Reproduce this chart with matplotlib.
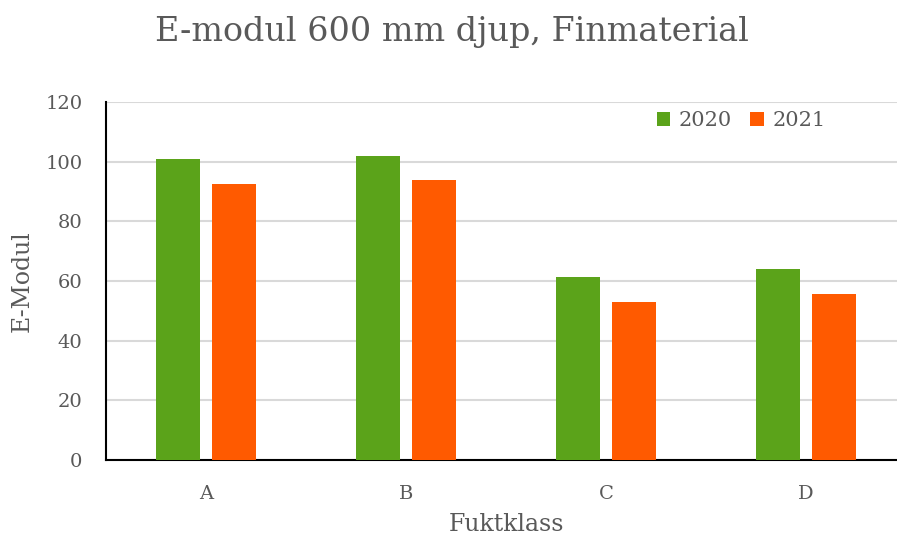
import numpy as np
import matplotlib.pyplot as plt

# Data
klasser = ['A', 'B', 'C', 'D']
ar = ['2020', '2021']
emodul_2020 = [100.8, 101.8, 61.2, 64.1]
emodul_2021 = [92.5, 93.7, 53.1, 55.7]

GRON = '#5BA31A'
ORANGE = '#FF5A00'
GRA_TEXT = '#595959'

plt.rcParams['font.family'] = ['DejaVu Serif']

fig = plt.figure(figsize=(8.97, 5.38), dpi=100)
ax = fig.add_axes([106 / 897, 78 / 538, 800 / 897, 358 / 538])

x = np.arange(len(klasser))
bredd = 0.22
ax.bar(x - 0.14, emodul_2020, bredd, color=GRON, label=ar[0], zorder=3)
ax.bar(x + 0.14, emodul_2021, bredd, color=ORANGE, label=ar[1], zorder=3)

ax.set_xlim(-0.5, 3.5)
ax.set_ylim(0, 120)
ax.set_yticks(range(0, 121, 20))
ax.set_xticks(x)
ax.set_xticklabels(klasser)
ax.yaxis.grid(True, color='#D9D9D9', linewidth=1.5, zorder=0)
ax.set_axisbelow(True)

for s in ['top', 'right']:
    ax.spines[s].set_visible(False)
for s in ['left', 'bottom']:
    ax.spines[s].set_color('black')
    ax.spines[s].set_linewidth(1.5)

ax.tick_params(axis='both', length=0, labelsize=14, colors=GRA_TEXT)
ax.tick_params(axis='y', pad=17)
ax.tick_params(axis='x', pad=18)

ax.set_ylabel('E-Modul', fontsize=17, color=GRA_TEXT)
ax.yaxis.label.set_va('center')
ax.yaxis.set_label_coords(-0.105, 0.5)
ax.set_xlabel('Fuktklass', fontsize=17, color=GRA_TEXT)
ax.xaxis.label.set_va('center')
ax.xaxis.set_label_coords(0.5, -0.18)

fig.text(0.504, 1 - 32 / 538, 'E-modul 600 mm djup, Finmaterial', ha='center', va='center',
         fontsize=24, color=GRA_TEXT)

leg = ax.legend(loc='center', bbox_to_anchor=(741 / 897, 1 - 121 / 538),
                bbox_transform=fig.transFigure, ncol=2, frameon=False,
                fontsize=15, handlelength=0.65, handleheight=0.65,
                handletextpad=0.4, columnspacing=0.9)
for t in leg.get_texts():
    t.set_color(GRA_TEXT)

fig.savefig('out.png', dpi=100)
